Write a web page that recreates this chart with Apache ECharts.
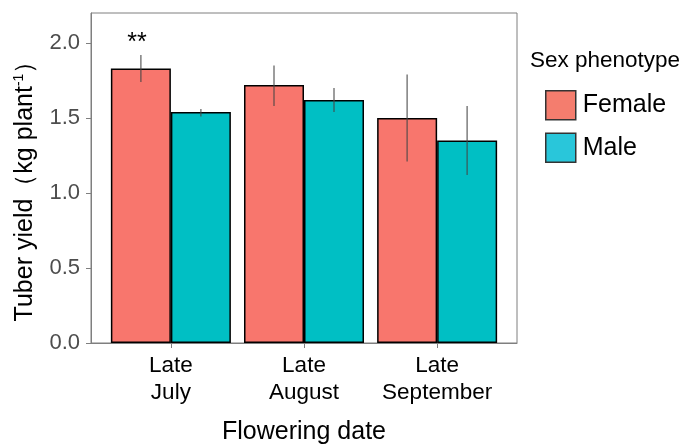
<!DOCTYPE html>
<html>
<head>
<meta charset="utf-8">
<script src="https://cdn.jsdelivr.net/npm/echarts@6/dist/echarts.min.js"></script>
<style>
  html, body { margin: 0; padding: 0; background: #fff; }
  #chart { width: 685px; height: 447px; }
</style>
</head>
<body>
<div id="chart"></div>
<script>
// flowering date groups (placed at x = 1, 2, 3)
const categories = ['Late\nJuly', 'Late\nAugust', 'Late\nSeptember'];
const positions = [1, 2, 3];

// mean tuber yield and error bar limits (kg plant-1)
const femaleMean = [1.83, 1.72, 1.50];
const femaleLow  = [1.74, 1.58, 1.21];
const femaleHigh = [1.92, 1.85, 1.79];

const maleMean = [1.54, 1.62, 1.35];
const maleLow  = [1.51, 1.54, 1.12];
const maleHigh = [1.56, 1.70, 1.58];

// significance marks over the female bars
const signif = ['**', '', ''];

const FEMALE = '#F8766D';
const MALE = '#00BFC4';
const FONT = 'Liberation Sans, Arial, sans-serif';
const HALF_BAR = 30;

// rows for the error bars: [x, low, high, side], marks kept alongside
const errRows = [];
const errMarks = [];
positions.forEach((p, i) => {
  errRows.push([p, femaleLow[i], femaleHigh[i], -1]);
  errMarks.push(signif[i]);
  errRows.push([p, maleLow[i], maleHigh[i], 1]);
  errMarks.push('');
});

function renderErr(params, api) {
  const side = api.value(3);
  const lo = api.coord([api.value(0), api.value(1)]);
  const hi = api.coord([api.value(0), api.value(2)]);
  const x = lo[0] + side * HALF_BAR;
  const children = [{
    type: 'line',
    shape: { x1: x, y1: lo[1], x2: x, y2: hi[1] },
    style: { stroke: 'rgba(70,70,70,0.7)', lineWidth: 1.5 }
  }];
  const mark = errMarks[params.dataIndex];
  if (mark) {
    children.push({
      type: 'text',
      style: {
        text: mark, x: x - 4, y: hi[1] + 1,
        align: 'center', verticalAlign: 'bottom',
        fill: '#000', font: '25px ' + FONT
      }
    });
  }
  return { type: 'group', children: children };
}

const chart = echarts.init(document.getElementById('chart'));
chart.setOption({
  animation: false,
  textStyle: { fontFamily: FONT },
  title: {
    text: 'Sex phenotype',
    left: 525, top: 44,
    textStyle: { fontFamily: FONT, fontSize: 22.5, fontWeight: 'normal', color: '#000' }
  },
  legend: {
    orient: 'vertical',
    left: 540, top: 85,
    itemWidth: 30, itemHeight: 29, itemGap: 12,
    icon: 'rect',
    textStyle: { fontFamily: FONT, fontSize: 25, color: '#000', padding: [0, 0, 0, 2] },
    data: [
      { name: 'Female', itemStyle: { color: '#F47D6E', borderColor: '#333', borderWidth: 1.5 } },
      { name: 'Male', itemStyle: { color: '#29C6DA', borderColor: '#333', borderWidth: 1.5 } }
    ]
  },
  grid: {
    left: 91, right: 168, top: 13, bottom: 104,
    outerBoundsMode: 'none', containLabel: false,
    show: true, borderColor: '#7f7f7f', borderWidth: 1, backgroundColor: 'transparent'
  },
  xAxis: {
    type: 'value',
    min: 0.4, max: 3.6,
    name: 'Flowering date',
    nameLocation: 'middle',
    nameGap: 77,
    nameTextStyle: { fontFamily: FONT, fontSize: 25, color: '#000' },
    splitLine: { show: false },
    axisLine: { show: true, onZero: false, lineStyle: { color: '#7f7f7f', width: 1 } },
    axisTick: { show: true, customValues: positions, length: 5, lineStyle: { color: '#7f7f7f' } },
    axisLabel: {
      customValues: positions,
      fontFamily: FONT, fontSize: 22.5, color: '#000', lineHeight: 27, margin: 9,
      formatter: v => categories[Math.round(v) - 1] || ''
    }
  },
  yAxis: {
    type: 'value',
    min: 0, max: 2.2, interval: 0.5,
    name: 'Tuber yield（kg plant{sup|-1}）',
    nameLocation: 'middle',
    nameGap: 53,
    nameTextStyle: {
      fontFamily: FONT, fontSize: 25, color: '#000', padding: [0, 14, 0, 0],
      rich: { sup: { fontFamily: FONT, fontSize: 14, color: '#000', verticalAlign: 'top', padding: [0, 0, 12, 0] } }
    },
    splitLine: { show: false },
    axisLine: { show: true, lineStyle: { color: '#7f7f7f', width: 1 } },
    axisTick: { show: true, length: 5, lineStyle: { color: '#7f7f7f' } },
    axisLabel: {
      fontFamily: FONT, fontSize: 22, color: '#4d4d4d', margin: 11,
      formatter: v => v.toFixed(1),
      showMaxLabel: false
    }
  },
  series: [
    {
      name: 'Female', type: 'bar',
      data: positions.map((p, i) => [p, femaleMean[i]]),
      barWidth: 60, barGap: '0%',
      itemStyle: { color: FEMALE, borderColor: '#000', borderWidth: 1.5 }
    },
    {
      name: 'Male', type: 'bar',
      data: positions.map((p, i) => [p, maleMean[i]]),
      barWidth: 60, barGap: '0%',
      itemStyle: { color: MALE, borderColor: '#000', borderWidth: 1.5 }
    },
    {
      type: 'custom', name: 'err',
      data: errRows,
      renderItem: renderErr,
      encode: { x: 0, y: [1, 2] },
      z: 10,
      silent: true
    }
  ]
});
</script>
</body>
</html>
